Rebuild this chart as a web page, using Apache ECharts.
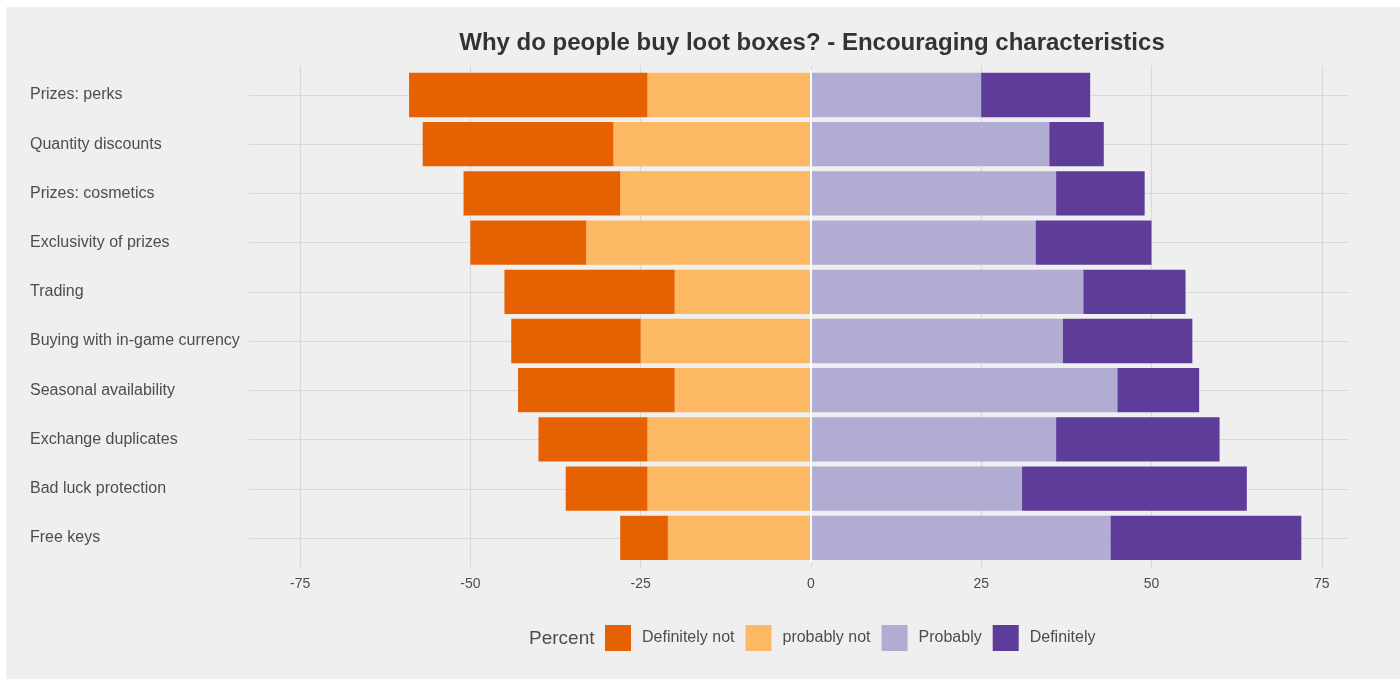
<!DOCTYPE html>
<html>
<head>
<meta charset="utf-8">
<title>Loot boxes</title>
<script src="https://cdn.jsdelivr.net/npm/echarts@6/dist/echarts.min.js"></script>
<style>
    html, body { margin: 0; padding: 0; background: #ffffff; }
    #chart { width: 1400px; height: 679px; }
</style>
</head>
<body>
<div id="chart"></div>
<script>
// 类别（自上而下）
const categories = [
    'Prizes: perks', 'Quantity discounts', 'Prizes: cosmetics', 'Exclusivity of prizes',
    'Trading', 'Buying with in-game currency', 'Seasonal availability',
    'Exchange duplicates', 'Bad luck protection', 'Free keys'
];

// 各回答的百分比
const definitelyNot = [35, 28, 23, 17, 25, 19, 23, 16, 12, 7];
const probablyNot   = [24, 29, 28, 33, 20, 25, 20, 24, 24, 21];
const probably      = [25, 35, 36, 33, 40, 37, 45, 36, 31, 44];
const definitely    = [16, 8, 13, 17, 15, 19, 12, 24, 33, 28];

const legendNames = ['Definitely not', 'probably not', 'Probably', 'Definitely'];
const colors = ['#e66101', '#fdb863', '#b2abd2', '#5e3c99'];

const xMin = -82.5, xMax = 79;
const gridColor = '#d9d9d9';
const textColor = '#4d4d4d';
const fontFamily = '"Liberation Sans", Arial, sans-serif';

const chart = echarts.init(document.getElementById('chart'));

const option = {
    backgroundColor: '#ffffff',
    textStyle: { fontFamily: fontFamily },
    graphic: [{
        type: 'rect', z: -10, silent: true,
        shape: { x: 6, y: 7, width: 1394, height: 672 },
        style: { fill: '#efefef' }
    }],
    title: [
        {
            text: 'Why do people buy loot boxes? - Encouraging characteristics',
            left: 807, top: 26, textAlign: 'center',
            textStyle: { fontSize: 24, fontWeight: 'bold', color: '#333333', fontFamily: fontFamily }
        },
        {
            text: 'Percent',
            left: 524, top: 624,
            textStyle: { fontSize: 19, fontWeight: 'normal', color: textColor, fontFamily: fontFamily }
        }
    ],
    legend: {
        data: legendNames,
        left: 600, top: 620,
        icon: 'rect',
        itemWidth: 26, itemHeight: 26, itemGap: 11,
        textStyle: { fontSize: 16, color: textColor, padding: [0, 0, 0, 6] }
    },
    grid: [
        { left: 249, right: 51, top: 70.4, height: 492 },   // 条形
        { left: 249, right: 51, top: 65.5, height: 502 },   // 竖向网格线和刻度
        { left: 249, right: 51, top: 95, height: 443 }      // 横向网格线
    ],
    xAxis: [
        { type: 'value', gridIndex: 0, min: xMin, max: xMax, show: false },
        {
            type: 'value', gridIndex: 1, min: xMin, max: xMax,
            minInterval: 25, maxInterval: 25,
            axisLine: { show: false }, axisTick: { show: false },
            axisLabel: {
                fontSize: 14, color: textColor, margin: 10,
                showMinLabel: false, showMaxLabel: false,
                formatter: v => (v % 25 === 0 ? String(v) : '')
            },
            splitLine: { show: true, showMinLine: false, showMaxLine: false, lineStyle: { color: gridColor, width: 1.2 } }
        },
        { type: 'value', gridIndex: 2, min: xMin, max: xMax, show: false }
    ],
    yAxis: [
        {
            type: 'category', gridIndex: 0, data: categories, inverse: true,
            axisLine: { show: false }, axisTick: { show: false },
            axisLabel: { fontSize: 16, color: textColor, align: 'left', margin: 219, padding: [3, 0, 0, 0] },
            splitLine: { show: false }
        },
        { type: 'value', gridIndex: 1, show: false },
        {
            type: 'category', gridIndex: 2, data: categories, inverse: true, boundaryGap: false,
            axisLine: { show: false }, axisTick: { show: false }, axisLabel: { show: false },
            splitLine: { show: true, lineStyle: { color: gridColor, width: 1.2 } }
        }
    ],
    series: [
        {
            name: 'probably not', type: 'bar', stack: 'total', barCategoryGap: '10%',
            itemStyle: { color: colors[1] },
            data: probablyNot.map(v => -v),
            markLine: {
                silent: true, symbol: 'none', label: { show: false },
                lineStyle: { color: '#ffffff', width: 2, type: 'solid' },
                data: [{ xAxis: 0 }],
                z: 10
            }
        },
        {
            name: 'Definitely not', type: 'bar', stack: 'total', barCategoryGap: '10%',
            itemStyle: { color: colors[0] },
            data: definitelyNot.map(v => -v)
        },
        {
            name: 'Probably', type: 'bar', stack: 'total', barCategoryGap: '10%',
            itemStyle: { color: colors[2] },
            data: probably
        },
        {
            name: 'Definitely', type: 'bar', stack: 'total', barCategoryGap: '10%',
            itemStyle: { color: colors[3] },
            data: definitely
        }
    ]
};

chart.setOption(option);

window.addEventListener('resize', function() {
    chart.resize();
});
</script>
</body>
</html>
